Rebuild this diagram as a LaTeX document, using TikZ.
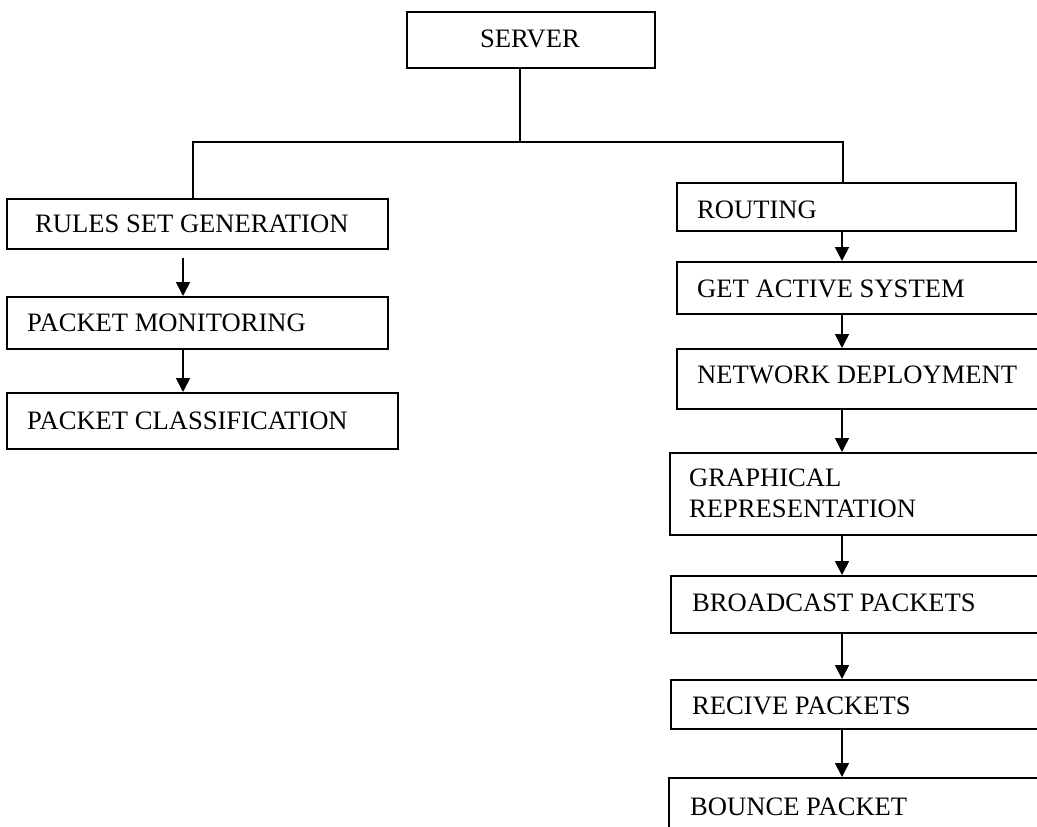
\documentclass[tikz,border=0pt]{standalone}
\usepackage{fontspec}
\setmainfont{Liberation Serif}
\usetikzlibrary{arrows.meta}
\begin{document}
\begin{tikzpicture}[x=1pt,y=-1pt,
  box/.style={draw, line width=1.7pt, inner sep=0pt, anchor=north west},
  txt/.style={inner sep=0pt, anchor=base west, font=\fontsize{26.6}{31}\selectfont},
  link/.style={line width=1.7pt},
  arr/.style={line width=1.7pt, -{Triangle[width=14pt,length=14pt]}}]
\clip (0,0) rectangle (1037,827);
\fill[white] (0,0) rectangle (1037,827);
% boxes
\node[box, minimum width=248pt, minimum height=56pt] (server) at (406,11) {};
\node[box, minimum width=381pt, minimum height=50pt] (rsg) at (6,198) {};
\node[box, minimum width=381pt, minimum height=52pt] (pm) at (6,296) {};
\node[box, minimum width=391pt, minimum height=56pt] (pc) at (6,392) {};
\node[box, minimum width=339pt, minimum height=48pt] (routing) at (676,182) {};
\node[box, minimum width=374pt, minimum height=52pt] (gas) at (676,261) {};
\node[box, minimum width=374pt, minimum height=60pt] (nd) at (676,348) {};
\node[box, minimum width=381pt, minimum height=82pt] (gr) at (669,452) {};
\node[box, minimum width=380pt, minimum height=57pt] (bp) at (670,575) {};
\node[box, minimum width=380pt, minimum height=49pt] (rp) at (670,679) {};
\node[box, minimum width=382pt, minimum height=83pt] (bo) at (668,777) {};
% texts
\node[txt, anchor=base] (tserver) at (530,47) {SERVER};
\node[txt] (trsg) at (35,232) {RULES SET GENERATION};
\node[txt] (tpm) at (27,331) {PACKET MONITORING};
\node[txt] (tpc) at (27,429) {PACKET CLASSIFICATION};
\node[txt] (trouting) at (697,218) {ROUTING};
\node[txt] (tgas) at (697,297) {GET ACTIVE SYSTEM};
\node[txt] (tnd) at (697,383) {NETWORK DEPLOYMENT};
\node[txt] (tgr) at (689,486) {\begin{tabular}[t]{@{}l@{}}GRAPHICAL\\REPRESENTATION\end{tabular}};
\node[txt] (tbp) at (692,611) {BROADCAST PACKETS};
\node[txt] (trp) at (692,714) {RECIVE PACKETS};
\node[txt] (tbo) at (690,815) {BOUNCE PACKET};
% guide coordinates
\coordinate (sx) at (520,0);
\coordinate (hy) at (0,142);
\coordinate (lbx) at (193,0);
\coordinate (rbx) at (843,0);
\coordinate (lax) at (183,0);
\coordinate (rax) at (842,0);
% tree connectors
\draw[link] (server.south -| sx) -- (hy -| sx);
\draw[link] (rsg.north -| lbx) |- (hy -| rbx) -- (routing.north -| rbx);
% left arrows
\draw[arr, shorten <=8pt] (rsg.south -| lax) -- (pm.north -| lax);
\draw[arr] (pm.south -| lax) -- (pc.north -| lax);
% right arrows
\draw[arr] (routing.south -| rax) -- (gas.north -| rax);
\draw[arr] (gas.south -| rax) -- (nd.north -| rax);
\draw[arr] (nd.south -| rax) -- (gr.north -| rax);
\draw[arr] (gr.south -| rax) -- (bp.north -| rax);
\draw[arr] (bp.south -| rax) -- (rp.north -| rax);
\draw[arr] (rp.south -| rax) -- (bo.north -| rax);
\end{tikzpicture}
\end{document}
